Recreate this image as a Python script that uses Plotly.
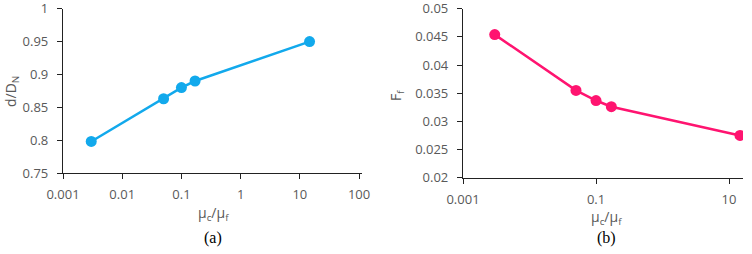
import plotly.graph_objects as go

# Data
mu_ratio = [0.003, 0.05, 0.1, 0.17, 14.6]
d_over_DN = [0.798, 0.863, 0.880, 0.890, 0.950]
Ff = [0.0454, 0.0355, 0.0337, 0.0326, 0.0275]

xa_ticks = [0.001, 0.01, 0.1, 1, 10, 100]
xa_text = ["0.001", "0.01", "0.1", "1", "10", "100"]
ya_ticks = [0.75, 0.8, 0.85, 0.9, 0.95, 1.0]
ya_text = ["0.75", "0.8", "0.85", "0.9", "0.95", "1"]

xb_ticks = [0.001, 0.1, 10]
xb_text = ["0.001", "0.1", "10"]
yb_ticks = [0.02, 0.025, 0.03, 0.035, 0.04, 0.045, 0.05]
yb_text = ["0.02", "0.025", "0.03", "0.035", "0.04", "0.045", "0.05"]

BLUE = "#12A9EC"
PINK = "#FF1470"
TICKFONT = dict(family="Open Sans", size=13, color="#595959")
TITLEFONT = dict(family="Open Sans", size=14, color="#595959")

W, H = 752, 254

def px(x):
    return x / W

def py(y):
    return 1 - y / H

fig = go.Figure()
fig.add_trace(go.Scatter(x=mu_ratio, y=d_over_DN, mode="lines+markers",
                         line=dict(color=BLUE, width=2.5),
                         marker=dict(color=BLUE, size=11),
                         xaxis="x", yaxis="y", showlegend=False))
fig.add_trace(go.Scatter(x=mu_ratio, y=Ff, mode="lines+markers",
                         line=dict(color=PINK, width=2.5),
                         marker=dict(color=PINK, size=11),
                         xaxis="x2", yaxis="y2", showlegend=False))

axis_common = dict(showgrid=False, zeroline=False, showline=True,
                   linecolor="#222222", linewidth=1.2, ticks="outside",
                   ticklen=5, tickcolor="#222222", tickwidth=1.2,
                   tickfont=TICKFONT, automargin=False,
                   ticklabeloverflow="allow")

TOP = 8.6

fig.update_layout(
    width=W, height=H,
    margin=dict(l=0, r=0, t=0, b=0),
    paper_bgcolor="white", plot_bgcolor="white",
    xaxis=dict(type="log", range=[-3, 2.05], domain=[px(63), px(362)],
               tickvals=xa_ticks, ticktext=xa_text, anchor="y",
               ticklabelstandoff=4, **axis_common),
    yaxis=dict(range=[0.75, 1.0002], domain=[py(173), py(TOP)],
               tickvals=ya_ticks, ticktext=ya_text, anchor="x",
               ticklabelstandoff=6, **axis_common),
    xaxis2=dict(type="log", range=[-3, 1.21], domain=[px(463), px(743)],
                tickvals=xb_ticks, ticktext=xb_text, anchor="y2",
                ticklabelstandoff=5, **axis_common),
    yaxis2=dict(range=[0.02, 0.05002], domain=[py(177.7), py(TOP)],
                tickvals=yb_ticks, ticktext=yb_text, anchor="x2",
                ticklabelstandoff=6, **axis_common),
)

ann = []
ann.append(dict(text="d/D<sub>N</sub>", x=px(11), y=py(92), textangle=-90,
                font=TITLEFONT))
ann.append(dict(text="F<sub>f</sub>", x=px(396), y=py(95), textangle=-90,
                font=TITLEFONT))
ann.append(dict(text="μ<sub>c</sub>/μ<sub>f</sub>", x=px(213), y=py(213),
                font=TITLEFONT))
ann.append(dict(text="μ<sub>c</sub>/μ<sub>f</sub>", x=px(606), y=py(217.5),
                font=TITLEFONT))
ann.append(dict(text="(a)", x=px(213), y=py(238),
                font=dict(family="Liberation Serif", size=16, color="black")))
ann.append(dict(text="(b)", x=px(606), y=py(238),
                font=dict(family="Liberation Serif", size=16, color="black")))
for a in ann:
    a.update(xref="paper", yref="paper", showarrow=False,
             xanchor="center", yanchor="middle")
fig.update_layout(annotations=ann)

fig.write_html(
    "out.html",
    config={"displayModeBar": False},
    post_script="document.body.style.margin='0';document.body.style.padding='0';"
                "document.body.style.overflow='hidden';",
)
